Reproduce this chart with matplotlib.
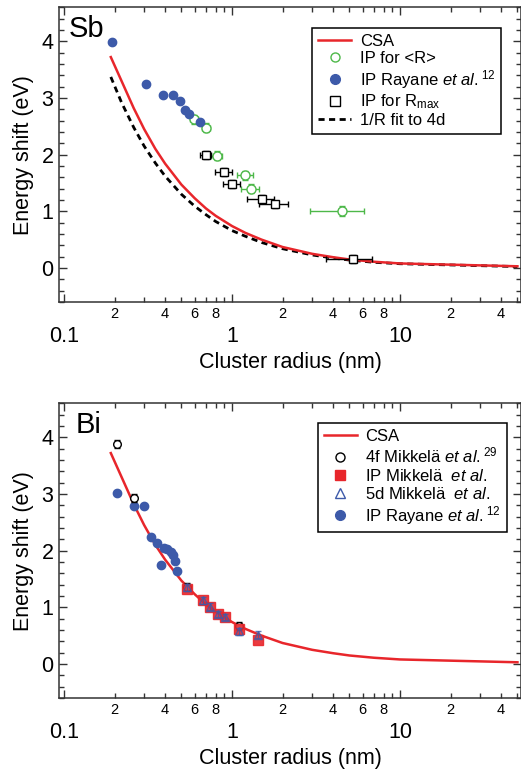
import numpy as np
import matplotlib
matplotlib.use("Agg")
import matplotlib.pyplot as plt
from matplotlib.ticker import LogLocator, FuncFormatter, MultipleLocator
from matplotlib.lines import Line2D

plt.rcParams['font.family'] = ['Liberation Sans', 'DejaVu Sans']
plt.rcParams['mathtext.fontset'] = 'custom'
plt.rcParams['mathtext.rm'] = 'Liberation Sans'
plt.rcParams['mathtext.it'] = 'Liberation Sans:italic'

RED = '#e8262b'
BLUE = '#3d5aa9'
GREEN = '#4db849'
AXC = '#333333'

# CSA curve and 1/R fit
csa_r = [0.19, 0.22, 0.26, 0.3, 0.35, 0.4, 0.5, 0.6, 0.7, 0.8, 1.0, 1.2, 1.5, 2.0, 3.0, 4.0, 5.0, 7.0, 10.0, 50.0]
csa_e = [3.72, 3.30, 2.82, 2.45, 2.10, 1.84, 1.47, 1.23, 1.05, 0.92, 0.74, 0.62, 0.50, 0.37, 0.25, 0.19, 0.15, 0.11, 0.08, 0.03]
fit_r = [0.19, 0.22, 0.26, 0.3, 0.35, 0.4, 0.5, 0.6, 0.7, 0.8, 1.0, 1.2, 1.5, 2.0, 3.0, 4.0, 5.0, 7.0, 10.0, 50.0]
fit_e = [3.37, 2.92, 2.48, 2.15, 1.85, 1.62, 1.30, 1.09, 0.94, 0.82, 0.66, 0.56, 0.45, 0.34, 0.23, 0.175, 0.14, 0.10, 0.075, 0.025]

# Sb
sb_ray_r = [0.194, 0.307, 0.388, 0.443, 0.488, 0.525, 0.557, 0.642]
sb_ray_e = [3.98, 3.245, 3.05, 3.05, 2.95, 2.78, 2.71, 2.575]
sb_avg_r = [0.596, 0.70, 0.811, 1.20, 1.297, 4.50]
sb_avg_e = [2.62, 2.47, 1.98, 1.635, 1.40, 1.005]
sb_avg_rerr = [0.03, 0.04, 0.06, 0.13, 0.16, 1.6]
sb_avg_eerr = [0.08, 0.08, 0.08, 0.08, 0.08, 0.08]
sb_max_r = [0.697, 0.896, 1.0, 1.50, 1.80, 5.23]
sb_max_e = [2.0, 1.69, 1.48, 1.22, 1.12, 0.153]
sb_max_rerr = [0.055, 0.10, 0.12, 0.27, 0.35, 1.6]
sb_max_eerr = [0.07, 0.07, 0.07, 0.07, 0.07, 0.07]

# Bi
bi_4f_r = [0.208, 0.261, 0.537, 1.10]
bi_4f_e = [3.88, 2.93, 1.36, 0.67]
bi_ip_r = [0.537, 0.669, 0.74, 0.822, 0.905, 1.10, 1.42]
bi_ip_e = [1.33, 1.12, 1.00, 0.89, 0.82, 0.62, 0.42]
bi_5d_r = [0.537, 0.669, 0.74, 0.822, 0.905, 1.10, 1.43]
bi_5d_e = [1.35, 1.12, 1.01, 0.88, 0.83, 0.58, 0.52]
bi_ray_r = [0.207, 0.261, 0.299, 0.328, 0.356, 0.376, 0.395, 0.412, 0.432, 0.448, 0.46, 0.472]
bi_ray_e = [3.02, 2.79, 2.79, 2.24, 2.13, 1.75, 2.05, 2.03, 1.98, 1.92, 1.82, 1.64]


def minor_label(v, pos):
    m = int(round(v / 10 ** np.floor(np.log10(v) + 1e-9)))
    return str(m) if m in (2, 4, 6, 8) else ''


def style_axes(ax, name, name_x):
    ax.set_xscale('log')
    ax.set_xlim(0.0934, 52.5)
    ax.set_ylim(-0.6, 4.6)
    ax.xaxis.set_major_locator(LogLocator(base=10, numticks=10))
    ax.xaxis.set_minor_locator(LogLocator(base=10, subs=range(2, 10), numticks=10))
    ax.xaxis.set_major_formatter(FuncFormatter(lambda v, p: f'{v:g}'))
    ax.xaxis.set_minor_formatter(FuncFormatter(minor_label))
    ax.yaxis.set_major_locator(MultipleLocator(1))
    ax.yaxis.set_minor_locator(MultipleLocator(0.2))
    ax.tick_params(which='both', direction='in', top=True, right=True, width=1, color=AXC)
    ax.tick_params(which='major', length=6)
    ax.tick_params(which='minor', length=3.5)
    ax.tick_params(axis='x', which='major', pad=17, labelsize=15.5)
    ax.tick_params(axis='x', which='minor', pad=3.5, labelsize=10.5)
    ax.tick_params(axis='y', labelsize=15.5, pad=4)
    for s in ax.spines.values():
        s.set_linewidth(1.1)
        s.set_color(AXC)
    ax.set_xlabel('Cluster radius (nm)', fontsize=15.5)
    ax.set_ylabel('Energy shift (eV)', fontsize=15.5)
    ax.xaxis.set_label_coords(0.5, -0.17)
    ax.yaxis.set_label_coords(-0.055, 0.5)
    ax.text(name_x, 0.975, name, transform=ax.transAxes, fontsize=21, va='top', ha='left')


fig = plt.figure(figsize=(5.21, 7.69), dpi=100)
ax1 = fig.add_axes([59 / 521, 1 - 302 / 769, 462 / 521, 294.8 / 769])
ax2 = fig.add_axes([59 / 521, 1 - 698 / 769, 462 / 521, 294.8 / 769])

# --- Sb panel ---
ax1.plot(fit_r, fit_e, color='black', lw=2, dashes=(2.2, 1.6), zorder=2)
ax1.plot(csa_r, csa_e, color=RED, lw=1.8, zorder=3)
ax1.errorbar(sb_avg_r, sb_avg_e, xerr=sb_avg_rerr, yerr=sb_avg_eerr, fmt='o', ms=6.5, mfc='white',
             mec=GREEN, mew=1, ecolor=GREEN, elinewidth=1, capsize=2.5, zorder=4)
ax1.plot(sb_ray_r, sb_ray_e, 'o', ms=6, color=BLUE, zorder=5)
ax1.errorbar(sb_max_r, sb_max_e, xerr=sb_max_rerr, yerr=sb_max_eerr, fmt='s', ms=6, mfc='white',
             mec='black', mew=1, ecolor='black', elinewidth=1, capsize=2.5, zorder=6)
style_axes(ax1, 'Sb', 0.02)

h1 = [Line2D([], [], color=RED, lw=1.8),
      Line2D([], [], ls='none', marker='o', ms=6.5, mfc='white', mec=GREEN, mew=1),
      Line2D([], [], ls='none', marker='o', ms=7, color=BLUE),
      Line2D([], [], ls='none', marker='s', ms=6.5, mfc='white', mec='black', mew=1),
      Line2D([], [], color='black', lw=2, dashes=(2.2, 1.6))]
l1 = ['CSA', 'IP for <R>', r'IP Rayane $\mathit{et\ al.}^{12}$', r'IP for R$_{\mathrm{max}}$', '1/R fit to 4d']
leg = ax1.legend(h1, l1, loc='upper right', bbox_to_anchor=(0.957, 0.93), fontsize=12, frameon=True,
                 fancybox=False, framealpha=1, edgecolor='black', handlelength=2.0, handletextpad=0.5,
                 labelspacing=0.12, borderpad=0.35, borderaxespad=0)
leg.get_frame().set_linewidth(1.1)

# --- Bi panel ---
ax2.plot(csa_r, csa_e, color=RED, lw=1.8, zorder=2)
ax2.plot(bi_ray_r, bi_ray_e, 'o', ms=6, color=BLUE, zorder=3)
ax2.errorbar(bi_4f_r, bi_4f_e, yerr=0.07, fmt='o', ms=5.5, mfc='white', mec='black', mew=1,
             ecolor='black', elinewidth=1, capsize=2.5, zorder=4)
ax2.plot(bi_ip_r, bi_ip_e, 's', ms=7, color=RED, alpha=0.9, zorder=5)
ax2.errorbar(bi_5d_r, bi_5d_e, yerr=0.06, fmt='^', ms=5.5, mfc='none', mec=BLUE, mew=1,
             ecolor=BLUE, elinewidth=1, capsize=2.5, alpha=0.8, zorder=6)
style_axes(ax2, 'Bi', 0.035)

h2 = [Line2D([], [], color=RED, lw=1.8),
      Line2D([], [], ls='none', marker='o', ms=6.5, mfc='white', mec='black', mew=1),
      Line2D([], [], ls='none', marker='s', ms=7, color=RED),
      Line2D([], [], ls='none', marker='^', ms=7, mfc='white', mec=BLUE, mew=1),
      Line2D([], [], ls='none', marker='o', ms=7, color=BLUE)]
l2 = ['CSA', r'4f Mikkelä $\mathit{et\ al.}^{29}$', r'IP Mikkelä  $\mathit{et\ al.}$',
      r'5d Mikkelä  $\mathit{et\ al.}$', r'IP Rayane $\mathit{et\ al.}^{12}$']
leg2 = ax2.legend(h2, l2, loc='upper right', bbox_to_anchor=(0.969, 0.933), fontsize=12, frameon=True,
                  fancybox=False, framealpha=1, edgecolor='black', handlelength=2.0, handletextpad=0.5,
                  labelspacing=0.12, borderpad=0.35, borderaxespad=0)
leg2.get_frame().set_linewidth(1.1)

fig.savefig('out.png', dpi=100)
